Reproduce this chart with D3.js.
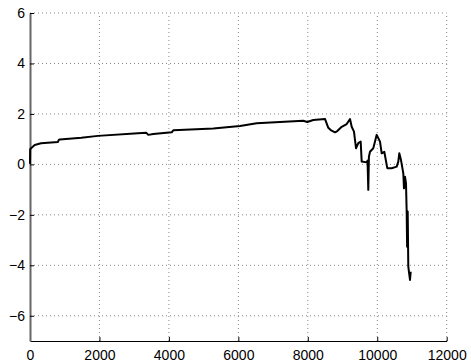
<!DOCTYPE html>
<html>
<head>
<meta charset="utf-8">
<script src="https://cdn.jsdelivr.net/npm/d3@7"></script>
<style>
body { margin: 0; background: #fff; }
svg { display: block; font-family: "Liberation Sans", Arial, sans-serif; }
.grid line { stroke: #888; stroke-dasharray: 1,3; stroke-width: 1; }
.axis text { font-size: 14px; fill: #000; }
</style>
</head>
<body>
<svg id="chart" width="471" height="362"></svg>
<script>
// series
var xs = [0, 5, 40, 135, 317, 806, 830, 860, 1477, 1958, 3110, 3350, 3407, 3550, 4081, 4127,
	5279, 6047, 6528, 7870, 7985, 8158, 8495, 8590, 8660, 8783, 8850, 8976, 9120, 9215, 9264,
	9330, 9388, 9454, 9523, 9552, 9696, 9720, 9742, 9760, 9791, 9886, 9984, 10079, 10128, 10203,
	10289, 10416, 10560, 10606, 10635, 10684, 10750, 10770, 10799, 10828, 10848, 10860, 10877,
	10894, 10943, 10963];
var ys = [0.02, 0.6, 0.65, 0.77, 0.84, 0.89, 0.97, 0.99, 1.06, 1.13, 1.23, 1.25, 1.17, 1.2, 1.27, 1.35,
	1.42, 1.52, 1.63, 1.73, 1.68, 1.76, 1.80, 1.45, 1.36, 1.27, 1.32, 1.49, 1.60, 1.80, 1.49,
	1.30, 0.64, 0.84, 0.90, 0.11, 0.08, 0.15, -1.01, 0.3, 0.50, 0.64, 1.17, 0.90, 0.44, 0.50,
	-0.15, -0.15, -0.09, 0.11, 0.44, 0.17, -0.35, -0.95, -0.49, -0.75, -1.94, -3.26, -1.87,
	-4.05, -4.58, -4.25];

var xTicks = [0, 2000, 4000, 6000, 8000, 10000, 12000];
var yTicks = [-6, -4, -2, 0, 2, 4, 6];

var svg = d3.select('#chart');

var x = d3.scaleLinear().domain([0, 12000]).range([30, 446.7]);
var y = d3.scaleLinear().domain([-7, 6]).range([341, 13]);

var fmt = d3.format('d');
var minus = (d) => (d < 0 ? '\u2212' + fmt(-d) : fmt(d));

// dotted grid
svg.append('g')
	.attr('class', 'grid')
	.selectAll('line')
		.data(xTicks.slice(1))
	.enter()
	.append('line')
		.attr('x1', (d) => x(d)).attr('x2', (d) => x(d))
		.attr('y1', y(-7)).attr('y2', y(6));

svg.append('g')
	.attr('class', 'grid')
	.selectAll('line')
		.data(yTicks)
	.enter()
	.append('line')
		.attr('x1', x(0)).attr('x2', x(12000))
		.attr('y1', (d) => y(d)).attr('y2', (d) => y(d));

// axes, ticks inward like matlab
var xAxis = svg.append('g')
	.attr('class', 'axis')
	.attr('transform', 'translate(0,' + y(-7) + ')')
	.call(d3.axisBottom(x).tickValues(xTicks).tickFormat(fmt).tickSizeInner(-4).tickSizeOuter(0).tickPadding(9));
xAxis.select('.domain').attr('stroke', '#000');

var yAxis = svg.append('g')
	.attr('class', 'axis')
	.attr('transform', 'translate(' + x(0) + ',0)')
	.call(d3.axisLeft(y).tickValues(yTicks).tickFormat(minus).tickSizeInner(-4).tickSizeOuter(0).tickPadding(5));
yAxis.select('.domain').attr('stroke', '#666').attr('stroke-width', 2);

// the series
var line = d3.line()
	.x((d, i) => x(xs[i]))
	.y((d, i) => y(ys[i]));

svg.append('path')
	.datum(ys)
	.attr('d', line)
	.attr('fill', 'none')
	.attr('stroke', '#000')
	.attr('stroke-width', 2)
	.attr('stroke-linejoin', 'round');
</script>
</body>
</html>
